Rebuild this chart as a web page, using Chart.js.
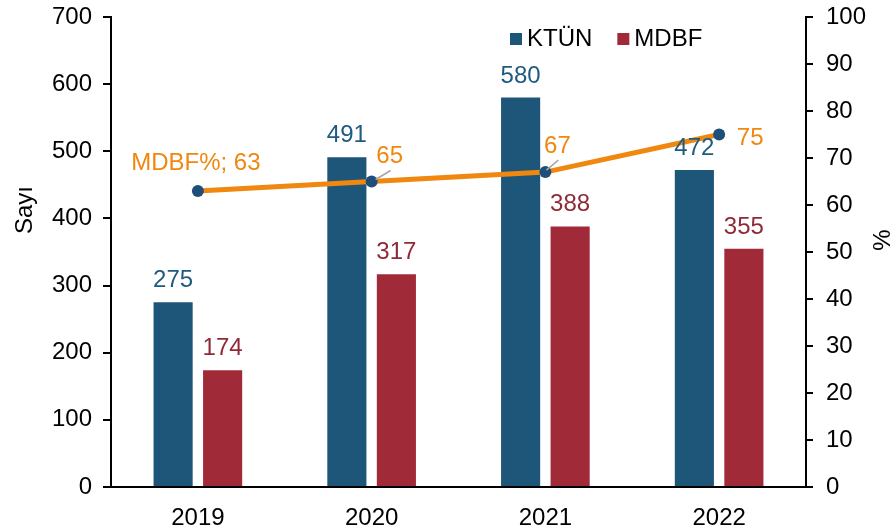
<!DOCTYPE html>
<html>
<head>
<meta charset="utf-8">
<script src="https://cdn.jsdelivr.net/npm/chart.js@4.4.0/dist/chart.umd.min.js"></script>
<style>
  html, body { margin: 0; padding: 0; background: #fff; }
  #wrap { width: 894px; height: 529px; }
</style>
</head>
<body>
<div id="wrap"><canvas id="chart"></canvas></div>
<script>
'use strict';

// ── Data ─────────────────────────────────────────────
const years    = ['2019', '2020', '2021', '2022'];
const ktun     = [275, 491, 580, 472];
const mdbf     = [174, 317, 388, 355];
const mdbfPct  = [63, 65, 67, 75];
const countMax = 700, countStep = 100;
const pctMax   = 100, pctStep = 10;

// ── Styles ───────────────────────────────────────────
const FONT   = "'Liberation Sans', Arial, sans-serif";
const SIZE   = 24;
const BLUE   = '#1E5679';
const RED    = '#A12A38';
const ORANGE = '#F0870F';
const DOT    = '#1F4E79';

// offsets of the line labels from their point (text centre x, baseline y)
const pctLabelOffset = [[-2, -21], [18, -19], [12, -19], [31, 10]];
// leader lines [x1, y1, x2, y2] relative to the point, null = none
const pctLeader = [null, [4, -2, 19, -11], [1, -2, 13, -12], null];

const labelPlugin = {
  id: 'labels',
  afterDatasetsDraw(chart) {
    const ctx = chart.ctx;
    ctx.save();
    ctx.font = `${SIZE}px ${FONT}`;
    ctx.textAlign = 'center';
    ctx.textBaseline = 'alphabetic';

    // bar values
    [1, 2].forEach(di => {
      const ds = chart.data.datasets[di];
      chart.getDatasetMeta(di).data.forEach((el, i) => {
        ctx.fillStyle = ds.labelColor;
        ctx.fillText(String(ds.data[i]), el.x, el.y - 15);
      });
    });

    // percentage line values
    const line = chart.data.datasets[0];
    chart.getDatasetMeta(0).data.forEach((el, i) => {
      const lead = pctLeader[i];
      if (lead) {
        ctx.strokeStyle = '#A6A6A6';
        ctx.lineWidth = 1.5;
        ctx.beginPath();
        ctx.moveTo(el.x + lead[0], el.y + lead[1]);
        ctx.lineTo(el.x + lead[2], el.y + lead[3]);
        ctx.stroke();
      }
      const txt = i === 0 ? `${line.label}; ${line.data[i]}` : String(line.data[i]);
      ctx.fillStyle = ORANGE;
      ctx.fillText(txt, el.x + pctLabelOffset[i][0], el.y + pctLabelOffset[i][1]);
    });

    // legend (bars only)
    ctx.textAlign = 'left';
    let x = 510;
    [1, 2].forEach(di => {
      const ds = chart.data.datasets[di];
      ctx.fillStyle = ds.backgroundColor;
      ctx.fillRect(x, 33, 12, 12);
      ctx.fillStyle = '#000';
      ctx.fillText(ds.label, x + 17, 46);
      x += 17 + ctx.measureText(ds.label).width + 25;
    });

    // axis titles
    ctx.textAlign = 'center';
    ctx.textBaseline = 'middle';
    ctx.fillStyle = '#000';
    ctx.translate(25, 210);
    ctx.rotate(-Math.PI / 2);
    ctx.fillText('Sayı', 0, 0);
    ctx.setTransform(1, 0, 0, 1, 0, 0);
    ctx.translate(883, 240);
    ctx.rotate(-Math.PI / 2);
    ctx.fillText('%', 0, 0);
    ctx.restore();
  }
};

const tickFont = { family: FONT, size: SIZE };

// fixed side widths so the plot area lands where the original has it
const fitSide = w => s => { s.width = w; s.paddingTop = 0; s.paddingBottom = 0; };

new Chart(document.getElementById('chart'), {
  type: 'bar',
  data: {
    labels: years,
    datasets: [
      {
        type: 'line',
        label: 'MDBF%',
        data: mdbfPct,
        yAxisID: 'y1',
        order: 0,
        borderColor: ORANGE,
        borderWidth: 5,
        pointRadius: 6,
        pointBackgroundColor: DOT,
        pointBorderWidth: 0,
        tension: 0,
      },
      {
        label: 'KTÜN',
        data: ktun,
        yAxisID: 'y',
        order: 1,
        backgroundColor: BLUE,
        labelColor: '#1F5A80',
        categoryPercentage: 0.57,
        barPercentage: 0.79,
      },
      {
        label: 'MDBF',
        data: mdbf,
        yAxisID: 'y',
        order: 1,
        backgroundColor: RED,
        labelColor: '#8E2A36',
        categoryPercentage: 0.57,
        barPercentage: 0.79,
      },
    ],
  },
  options: {
    responsive: true,
    maintainAspectRatio: false,
    animation: false,
    layout: { padding: { top: 17, left: 0, right: 0, bottom: 0 } },
    plugins: { legend: { display: false }, tooltip: { enabled: false } },
    scales: {
      x: {
        grid: { display: false, drawTicks: false },
        border: { display: true, color: '#000', width: 2 },
        ticks: { font: tickFont, color: '#000', padding: 17 },
        afterFit: s => { s.height = 42; s.paddingLeft = 0; s.paddingRight = 0; },
      },
      y: {
        position: 'left',
        min: 0, max: countMax,
        grid: { display: true, drawOnChartArea: false, drawTicks: true, tickLength: 8, color: '#000', lineWidth: 2 },
        border: { display: true, color: '#000', width: 2 },
        ticks: { stepSize: countStep, font: tickFont, color: '#000', padding: 11 },
        afterFit: fitSide(111),
      },
      y1: {
        position: 'right',
        min: 0, max: pctMax,
        grid: { display: true, drawOnChartArea: false, drawTicks: true, tickLength: 7, color: '#000', lineWidth: 2 },
        border: { display: true, color: '#000', width: 2 },
        ticks: { stepSize: pctStep, font: tickFont, color: '#000', padding: 13 },
        afterFit: fitSide(88),
      },
    },
  },
  plugins: [labelPlugin],
});
</script>
</body>
</html>
